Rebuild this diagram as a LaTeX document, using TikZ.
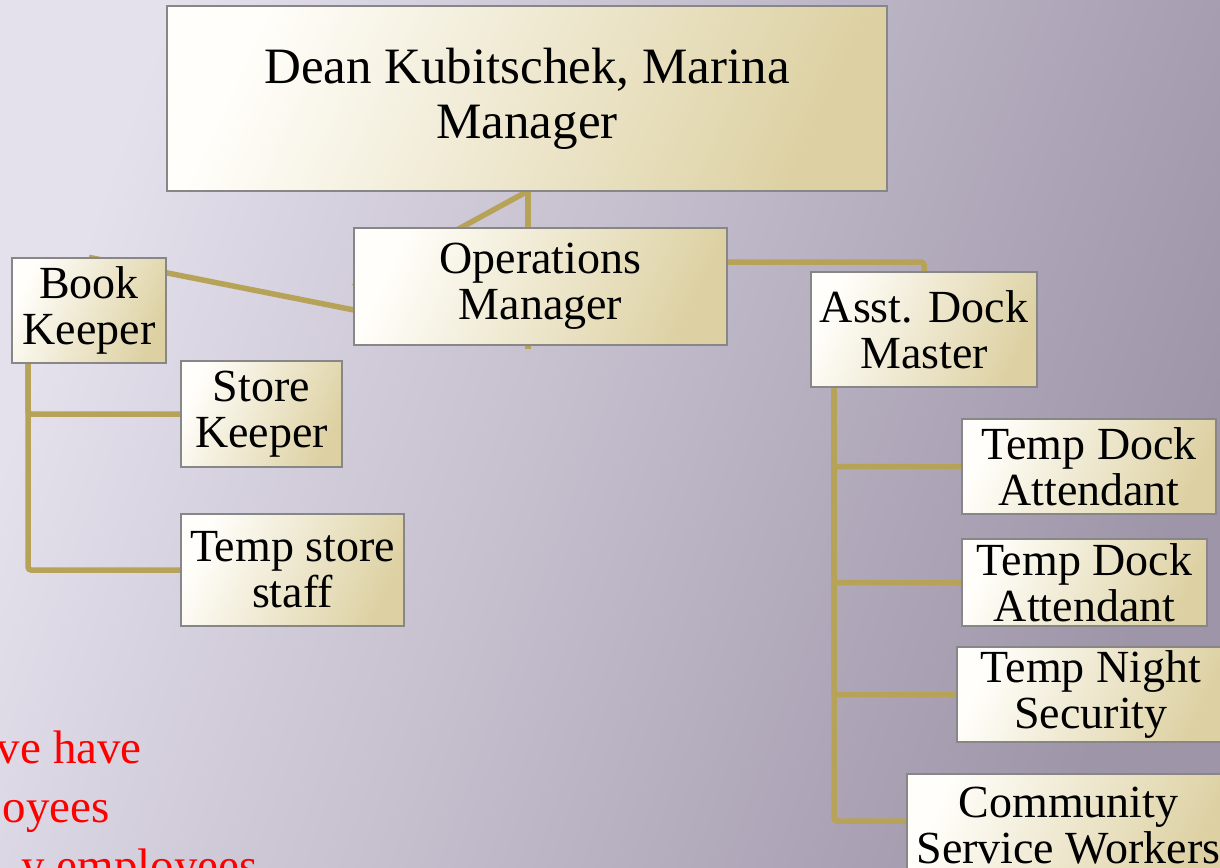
\documentclass[tikz,border=0pt]{standalone}
\usepackage{fontspec}
\setmainfont{Liberation Serif}
\pgfdeclarelayer{bg}
\pgfsetlayers{bg,main}
\definecolor{bgL}{RGB}{228,224,236}
\definecolor{bgR}{RGB}{158,149,168}
\definecolor{boxL}{RGB}{255,254,250}
\definecolor{boxR}{RGB}{221,209,163}
\definecolor{edge}{RGB}{135,135,135}
\definecolor{connC}{RGB}{182,163,88}
\tikzset{
  orgbox/.style={shade, shading=axis, left color=boxL, right color=boxR, shading angle=65,
    draw=edge, line width=1.2pt, align=center, inner sep=0pt, anchor=center,
    font=\fontsize{46}{46}\selectfont, text=black},
  conn/.style={draw=connC, line width=5.5pt, rounded corners=3pt},
  redtxt/.style={anchor=base east, inner sep=0pt, text={rgb,255:red,255;green,0;blue,0},
    font=\fontsize{47}{47}\selectfont}
}
\begin{document}
\begin{tikzpicture}[x=1pt,y=-1pt]
\useasboundingbox (0,0) rectangle (1220,867);
\begin{pgfonlayer}{bg}
\shade[left color=bgL, right color=bgR, shading angle=70] (0,0) rectangle (1220,867);
\end{pgfonlayer}
\clip (0,0) rectangle (1220,867);
% boxes
\node[orgbox, minimum width=720pt, minimum height=185pt, font=\fontsize{51}{55}\selectfont] (dean) at (527,98.5) {Dean Kubitschek, Marina\\Manager};
\node[orgbox, minimum width=373pt, minimum height=117pt] (ops) at (540.5,286.5) {Operations\\Manager};
\node[orgbox, minimum width=154pt, minimum height=105pt] (book) at (89,310.5) {Book\\Keeper};
\node[orgbox, minimum width=161pt, minimum height=106pt] (store) at (261.5,414) {Store\\Keeper};
\node[orgbox, minimum width=223pt, minimum height=112pt] (tss) at (292.5,570) {Temp store\\staff};
\node[orgbox, minimum width=226pt, minimum height=115pt] (asst) at (924,329.5) {Asst. Dock\\Master};
\node[orgbox, minimum width=254pt, minimum height=95pt] (tda1) at (1089,466.5) {Temp Dock\\Attendant};
\node[orgbox, minimum width=245pt, minimum height=87pt] (tda2) at (1084.5,582.5) {Temp Dock\\Attendant};
\node[orgbox, minimum width=268pt, minimum height=95pt] (tns) at (1091,694.5) {Temp Night\\Security};
\node[orgbox, minimum width=323pt, minimum height=104pt] (csw) at (1068.5,826) {Community\\Service Workers};
% red text
\node[redtxt] (r1) at (142,763) {ve have};
\node[redtxt] (r2) at (110,822) {oyees};
\node[redtxt] (r3) at (258,881) {y employees};
% connector end points
\coordinate (deanS) at (528,191);
\coordinate (opsTail) at (528,349);
\coordinate (opsL) at (354,310);
\coordinate (opsR) at (727,262);
\coordinate (bookS) at (28,363);
\coordinate (asstS) at (834,387);
\coordinate (cswW) at (907,821);
\begin{pgfonlayer}{bg}
\draw[conn] (deanS) -- (opsTail);
\draw[conn] (deanS) -- (ops.west);
\draw[conn] (opsL) -- (book.north);
\draw[conn] (opsR) -| (asst.north);
\draw[conn] (bookS) |- (store.west);
\draw[conn] (bookS) |- (tss.west);
\draw[conn] (asstS) |- (tda1.west);
\draw[conn] (asstS) |- (tda2.west);
\draw[conn] (asstS) |- (tns.west);
\draw[conn] (asstS) |- (cswW);
\end{pgfonlayer}
\end{tikzpicture}
\end{document}
